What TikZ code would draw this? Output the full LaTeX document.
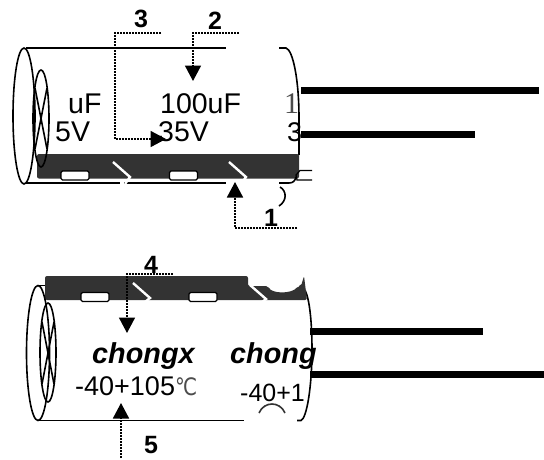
\documentclass[tikz,border=0pt]{standalone}
\usepackage{fontspec}
\setmainfont{Liberation Sans}
\newfontfamily\serifthin{Liberation Serif}
\newfontfamily\degf{DejaVu Sans}
\usetikzlibrary{arrows.meta}
\definecolor{band}{HTML}{333333}
\tikzset{
 outline/.style={black,line width=1.6pt},
 lead/.style={black,line width=7pt},
 bandfill/.style={fill=band,draw=none},
 slot/.style={fill=white,draw=black,line width=1.2pt,rounded corners=1.5pt},
 slash/.style={white,line width=2.4pt},
 dotline/.style={black,line width=1.7pt,dash pattern=on 1.7pt off 1.3pt,-{Triangle[length=15.5pt,width=16pt]}},
 txt/.style={inner sep=0pt,anchor=base west,font=\fontsize{28.5}{30}\selectfont},
 smalltxt/.style={inner sep=0pt,anchor=base west,font=\fontsize{27}{29}\selectfont},
 italictxt/.style={inner sep=0pt,anchor=base west,font=\fontsize{28.8}{30}\selectfont\bfseries\itshape},
 num/.style={inner sep=0pt,anchor=base,font=\fontsize{25}{27}\selectfont\bfseries},
}
\begin{document}
\begin{tikzpicture}[x=1pt,y=-1pt]
\useasboundingbox (0,0) rectangle (544,459);
% ---- top capacitor
\draw[lead] (301,90) -- (539,90);
\draw[lead] (301,134) -- (475,134);
\draw[outline] (26,48) -- (226,48);
\draw[outline] (279,48) -- (286,48) .. controls (293,50) and (299,80) .. (299,118) -- (299,155);
\draw[outline] (26,183) -- (120,183);
\draw[outline] (124,183) -- (226,183);
\draw[outline] (279,183) -- (289,183);
\draw[bandfill,rounded corners=2pt] (37,154) -- (37,178.5) -- (299,178.5) -- (299,154) -- cycle;
\draw[outline] (24,116) ellipse [x radius=11, y radius=68];
\draw[outline] (41,118.5) ellipse [x radius=8, y radius=48.5];
\draw[outline] (35,88) -- (47,149);
\draw[outline] (47,88) -- (35,149);
\node[slot,minimum width=28pt,minimum height=9pt,inner sep=0pt] (t1) at (75,175.5) {};
\node[slot,minimum width=28pt,minimum height=9pt,inner sep=0pt] (t2) at (183.5,175.5) {};
\draw[slash] (113,162) -- (130,177) -- (125,184);
\draw[slash] (229,162) -- (246,177) -- (241,184);
\draw[black,line width=1.2pt] (312,170.5) -- (300,170.5) -- (296,175) -- (297,180) -- (312,180);
\draw[outline] (289,183) .. controls (293,183) and (295,181) .. (296,177);
\draw[outline] (280,187) .. controls (287,191) and (287,201) .. (279,206);
\node[txt] (uf1) at (68,113) {uF};
\node[txt] (uf2) at (160,113) {100uF};
\node[txt] (v1) at (55,141) {5V};
\node[txt] (v2) at (158,141) {35V};
\node[inner sep=0pt,anchor=base west,font=\fontsize{30}{32}\selectfont\serifthin,text=black!70] (one) at (284,113) {1};
\node[txt,font=\fontsize{27}{29}\selectfont] (three) at (287,141) {3};
\coordinate (c3a) at (161,33); \coordinate (c3b) at (115,33); \coordinate (c3c) at (115,139); \coordinate (c3d) at (166,139);
\draw[dotline] (c3a) -- (c3b) -- (c3c) -- (c3d);
\coordinate (c2a) at (239,33); \coordinate (c2b) at (193,33); \coordinate (c2c) at (193,81);
\draw[dotline] (c2a) -- (c2b) -- (c2c);
\coordinate (c1a) at (297,228); \coordinate (c1b) at (235,228); \coordinate (c1c) at (235,182);
\draw[dotline] (c1a) -- (c1b) -- (c1c);
\node[num] (n3) at (141,27) {3};
\node[num] (n2) at (215,29) {2};
\node[num] (n1) at (271,226) {1};
% ---- bottom capacitor
\draw[lead] (310,331) -- (483,331);
\draw[lead] (310,374) -- (544,374);
\draw[outline] (38,285.5) -- (50,285.5);
\draw[outline] (38,420.5) -- (244,420.5);
\draw[outline] (297,420.5) -- (301,420.5) .. controls (307,418) and (312,385) .. (312,350) .. controls (312,325) and (310,300) .. (305,290);
\draw[bandfill,rounded corners=2pt] (45,300) -- (45,276) -- (248,276) -- (248,286) -- (268,286) .. controls (272,294) and (292,294) .. (298,286) -- (301,286) -- (304,276) -- (307,300) -- cycle;
\draw[outline] (38,353) ellipse [x radius=11.5, y radius=67.5];
\draw[outline] (48,352.5) ellipse [x radius=8, y radius=49.5];
\draw[outline] (42,322) -- (54,384);
\draw[outline] (54,322) -- (42,384);
\node[slot,minimum width=28pt,minimum height=9pt,inner sep=0pt] (b1) at (95,297) {};
\node[slot,minimum width=28pt,minimum height=9pt,inner sep=0pt] (b2) at (203,297) {};
\draw[slash] (133,283) -- (150,298) -- (145,302);
\draw[slash] (250,285) -- (266,299) -- (261,303);
\node[italictxt] (ch1) at (92,363) {chongx};
\node[italictxt] (ch2) at (230,363) {chong};
\node[smalltxt] (tmp1) at (75,395) {-40+105};
\node[inner sep=0pt,anchor=base west,xscale=0.82,font=\fontsize{24}{26}\selectfont\degf,text=black!70] (deg) at (175,395) {℃};
\node[txt,font=\fontsize{25}{27}\selectfont] (tmp2) at (240,401) {-40+1};
\draw[black!80,line width=1.6pt] (259,413) .. controls (264,401) and (280,401) .. (285,413);
\coordinate (c4a) at (173,274); \coordinate (c4b) at (127,274); \coordinate (c4c) at (127,333);
\draw[dotline] (c4a) -- (c4b) -- (c4c);
\coordinate (c5a) at (121,458); \coordinate (c5b) at (121,403);
\draw[dotline] (c5a) -- (c5b);
\node[num] (n4) at (151,273) {4};
\node[num] (n5) at (151,453) {5};
\end{tikzpicture}
\end{document}
